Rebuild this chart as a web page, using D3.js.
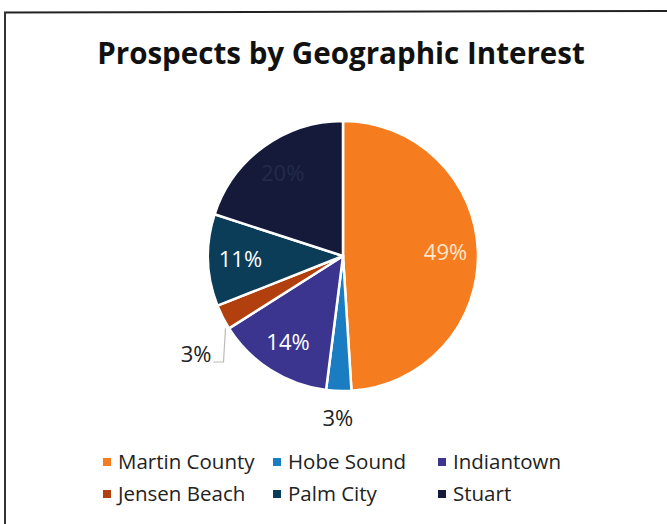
<!DOCTYPE html>
<html><head><meta charset="utf-8">
<script src="https://cdn.jsdelivr.net/npm/d3@7"></script>
<style>body{margin:0;background:#fff}svg{display:block}</style>
</head><body><svg id="c" width="667" height="524"></svg>
<script>
const categories = ["Martin County","Hobe Sound","Indiantown","Jensen Beach","Palm City","Stuart"];
const values = [49,3,14,3,11,20];
const labels = ["49%","3%","14%","3%","11%","20%"];
const colors = ["#F57C1F","#1A7DC2","#3B3590","#B2400F","#0B3D58","#151A3A"];
const title = "Prospects by Geographic Interest";

const svg = d3.select("#c");
const font = "'Open Sans', 'Liberation Sans', sans-serif";
// frame
svg.append("line").attr("x1",4).attr("x2",667).attr("y1",12.5).attr("y2",11).attr("stroke","#222").attr("stroke-width",2);
svg.append("line").attr("x1",5).attr("x2",5).attr("y1",12).attr("y2",524).attr("stroke","#333").attr("stroke-width",2);

const t = svg.append("text").attr("x",341).attr("y",64).attr("text-anchor","middle")
  .attr("font-family",font).attr("font-weight","bold").attr("font-size",28).attr("fill","#111").text(title);
const tw = t.node().getComputedTextLength();
t.attr("font-size", 28*488/tw);

const cx=343, cy=256, R=135;
const pie = d3.pie().sort(null).value(d=>d)(values);
const arc = d3.arc().innerRadius(0).outerRadius(R);
const g = svg.append("g").attr("transform",`translate(${cx},${cy})`);
g.selectAll("path").data(pie).enter().append("path")
  .attr("d",arc).attr("fill",(d,i)=>colors[i]).attr("stroke","#fff").attr("stroke-width",2.5).attr("stroke-linejoin","round");

const inLab = d3.arc().innerRadius(R*0.76).outerRadius(R*0.76);
const labelColors = ["#FFE6CC",null,"#fff",null,"#fff","#232a4a"];
pie.forEach((d,i)=>{
  if(values[i]>5){
    const [x,y]=inLab.centroid(d);
    g.append("text").attr("x",x).attr("y",y).attr("text-anchor","middle").attr("dy","0.35em")
      .attr("font-family",font).attr("font-size",22).attr("fill",labelColors[i]).text(labels[i]);
  }
});
// Hobe Sound outside label
{
  const d=pie[1]; const a=(d.startAngle+d.endAngle)/2; const r=R+27;
  g.append("text").attr("x",r*Math.sin(a)).attr("y",-r*Math.cos(a)).attr("text-anchor","middle").attr("dy","0.35em")
   .attr("font-family",font).attr("font-size",22).attr("fill","#222").text(labels[1]);
}
// Jensen Beach label with leader
{
  const d=pie[3]; const a=(d.startAngle+d.endAngle)/2;
  const ex=(R-2)*Math.sin(a)+1, ey=-(R-2)*Math.cos(a)+12;
  const ly=106;
  g.append("path").attr("d",`M${ex},${ey}L${ex-2},${ly}L${ex-12},${ly}`).attr("fill","none").attr("stroke","#bbb").attr("stroke-width",1.2);
  g.append("text").attr("x",ex-14).attr("y",ly-8).attr("text-anchor","end").attr("dy","0.35em")
   .attr("font-family",font).attr("font-size",22).attr("fill","#222").text(labels[3]);
}

// legend
const lx=[103,273,438], ly=[462,494];
categories.forEach((c,i)=>{
  const x=lx[i%3], y=ly[Math.floor(i/3)];
  svg.append("rect").attr("x",x).attr("y",y-4).attr("width",8).attr("height",8).attr("fill",colors[i]);
  svg.append("text").attr("x",x+15).attr("y",y).attr("dy","0.35em").attr("font-family",font)
    .attr("font-size",20.5).attr("fill","#222").text(c);
});
</script></body></html>
